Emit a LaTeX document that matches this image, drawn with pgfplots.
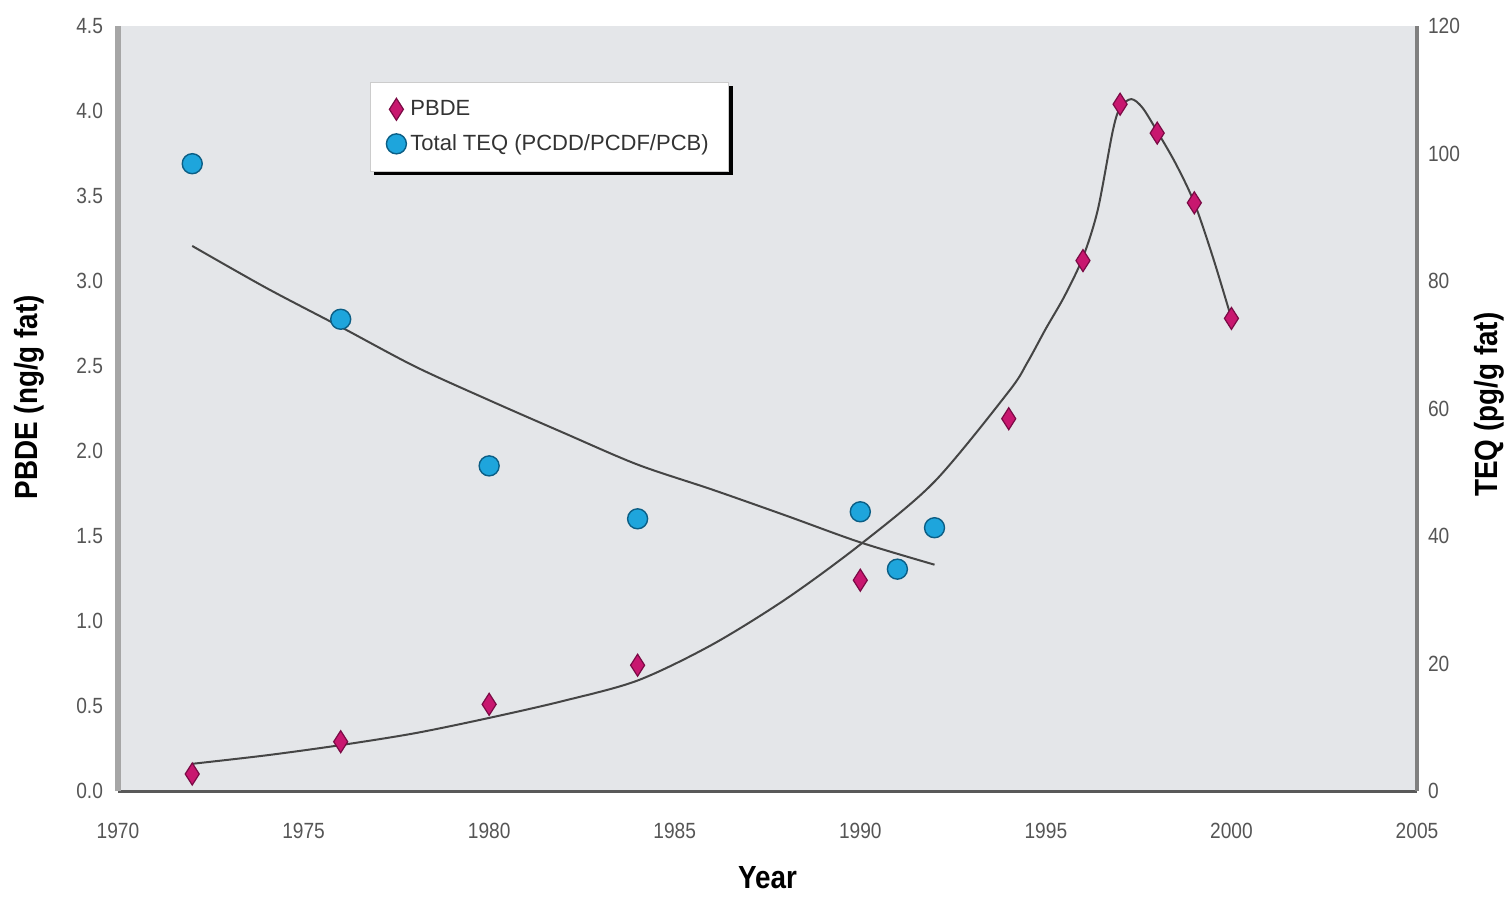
\documentclass[border=0pt]{standalone}
\usepackage{fontspec}
\setmainfont{Liberation Sans}[FakeStretch=0.87]
\newfontfamily\legendfont{Liberation Sans}
\usepackage{pgfplots}
\pgfplotsset{compat=1.18}
\usetikzlibrary{shadows}

\definecolor{pbde}{HTML}{C8176F}
\definecolor{pbdeedge}{HTML}{7A0A45}
\definecolor{teq}{HTML}{1EA5DC}
\definecolor{teqedge}{HTML}{0B5E85}
\definecolor{bg}{HTML}{E4E6E9}
\definecolor{ticktext}{HTML}{555555}
\definecolor{fitline}{HTML}{454545}

\pgfplotsset{
  pbdemark/.style={only marks, mark=diamond*, mark size=5.5pt,
    mark options={xscale=0.85, fill=pbde, draw=pbdeedge, line width=0.6pt}},
  teqmark/.style={only marks, mark=*, mark size=5pt,
    mark options={fill=teq, draw=teqedge, line width=0.7pt}},
  common/.style={
    scale only axis, width=649.5pt, height=382.5pt,
    xmin=1970, xmax=2005,
    major tick length=0pt,
    /pgf/number format/assume math mode=true,
    tick label style={font=\fontsize{11}{13}\selectfont, text=ticktext},
    label style={font=\fontsize{16}{18}\selectfont\bfseries, text=black},
  },
}

\begin{document}
\begin{tikzpicture}
\begin{axis}[
  common,
  ymin=0, ymax=4.5,
  xtick={1970,1975,...,2005},
  ytick={0,0.5,...,4.5},
  axis x line*=bottom, axis y line*=left,
  x axis line style={-, draw=black!65, line width=1.5pt},
  y axis line style={-, draw=black!35, line width=2.8pt},
  axis background/.style={fill=bg},
  xticklabel style={/pgf/number format/set thousands separator={}},
  xticklabel shift=12.5pt,
  yticklabel style={/pgf/number format/.cd, fixed, fixed zerofill, precision=1},
  yticklabel shift=4pt,
  xlabel={Year},
  ylabel={PBDE (ng/g fat)},
  xlabel style={at={(axis description cs:0.5,-0.113)}, anchor=center},
  ylabel style={at={(axis description cs:-0.068,0.515)}, anchor=center},
]
% PBDE fitted curve
\addplot[fitline, line width=1pt, smooth, tension=0.5] coordinates {
  (1972,0.16) (1974,0.21) (1976,0.27) (1978,0.34) (1980,0.43)
  (1982,0.53) (1984,0.65) (1986,0.86) (1988,1.13) (1990,1.45)
  (1992,1.82) (1994,2.35) (1994.5,2.52) (1995,2.72) (1995.5,2.91)
  (1996,3.14) (1996.4,3.42) (1996.8,3.88) (1997,4.02) (1997.3,4.07)
  (1997.6,4.02) (1998,3.88) (1998.5,3.69) (1999,3.46) (1999.5,3.14) (2000,2.78)
};
% PBDE measurements
\addplot[pbdemark] coordinates {
  (1972,0.10) (1976,0.29) (1980,0.51) (1984,0.74) (1990,1.24)
  (1994,2.19) (1996,3.12) (1997,4.04) (1998,3.87) (1999,3.46) (2000,2.78)
};
\end{axis}

\begin{axis}[
  common,
  ymin=0, ymax=120,
  ytick={0,20,...,120},
  axis x line=none,
  axis y line*=right,
  y axis line style={-, draw=black!50, line width=1.8pt},
  yticklabel shift=2pt,
  ylabel={TEQ (pg/g fat)},
  ylabel style={at={(axis description cs:1.056,0.505)}, anchor=center},
  legend style={at={(axis description cs:0.194,0.927)}, anchor=north west,
    fill=white, draw=black!20, line width=0.4pt,
    drop shadow={shadow xshift=2pt, shadow yshift=-2pt, fill=black, opacity=1},
    font=\legendfont\fontsize{11}{13}\selectfont, text=black!80,
    row sep=4pt, inner xsep=8pt, inner ysep=7pt},
  legend cell align=left,
]
\addlegendimage{pbdemark}
\addlegendentry{PBDE}
% TEQ fitted curve
\addplot[fitline, line width=1pt, smooth, forget plot] coordinates {
  (1972,85.5) (1974,78.9) (1976,72.8) (1978,66.6) (1980,61.3)
  (1982,56.2) (1984,51.2) (1986,47.3) (1988,43.2) (1990,39.0) (1992,35.5)
};
% TEQ measurements
\addplot[teqmark] coordinates {
  (1972,98.4) (1976,74.0) (1980,51.0) (1984,42.7)
  (1990,43.8) (1991,34.8) (1992,41.3)
};
\addlegendentry{Total TEQ (PCDD/PCDF/PCB)}
\end{axis}
\pgfresetboundingbox
\path (current axis.south west) ++(-59pt,-52.5pt) rectangle ([shift={(45pt,13pt)}]current axis.north east);
\end{tikzpicture}
\end{document}
